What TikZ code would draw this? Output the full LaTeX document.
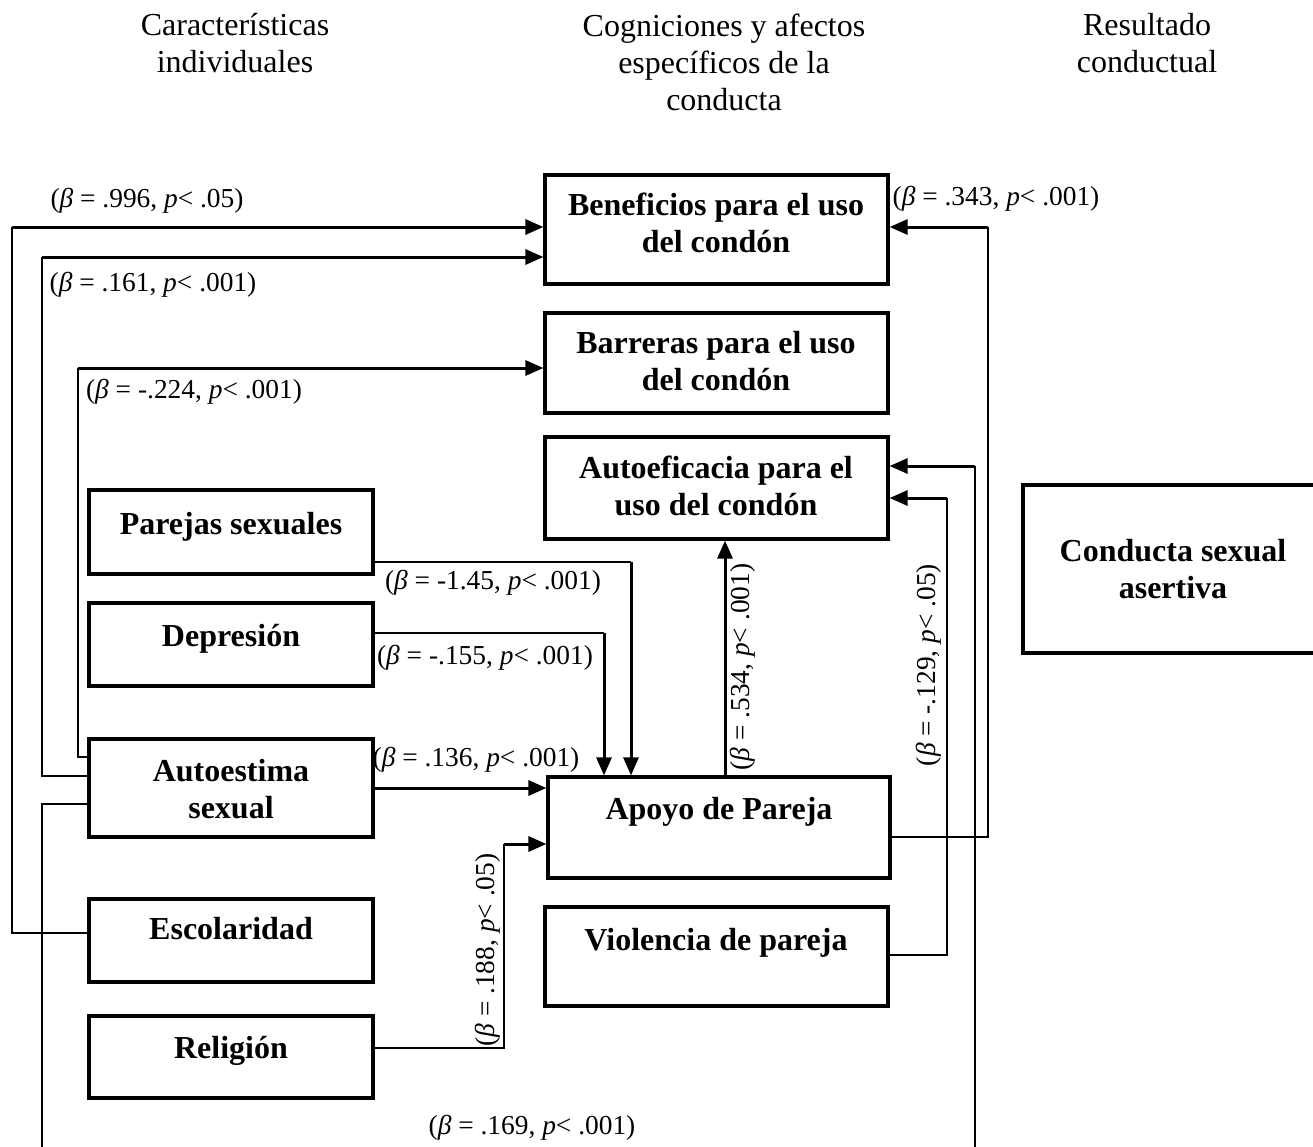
\documentclass[tikz,border=0pt]{standalone}
\usepackage{fontspec}
\setmainfont{Liberation Serif}
\usetikzlibrary{arrows.meta}
\begin{document}
\begin{tikzpicture}[x=1pt,y=-1pt,
  box/.style={draw, line width=3.2pt, rectangle, inner sep=0pt},
  boxtext/.style={font=\fontsize{32}{36.8}\selectfont\bfseries, align=center, anchor=base, inner sep=0pt},
  head/.style={font=\fontsize{32}{36.8}\selectfont, align=center, anchor=base, inner sep=0pt},
  coef/.style={font=\fontsize{27.4}{31.5}\selectfont, inner sep=0pt},
  thinline/.style={line width=1.5pt},
  arrowline/.style={line width=3pt, -{Triangle[length=18pt,width=15pt]}},
]
\useasboundingbox (0,0) rectangle (1313,1146);
\clip (0,0) rectangle (1313,1146);

% column headings (base = last line)
\node[head] (hindiv) at (235,72) {Características\\individuales};
\node[head] (hcog) at (724,110) {Cogniciones y afectos\\específicos de la\\conducta};
\node[head] (hres) at (1147,72) {Resultado\\conductual};

% boxes
\node[box, minimum width=343pt, minimum height=109pt] (bene) at (716.5,229.5) {};
\node[box, minimum width=343pt, minimum height=100pt] (barr) at (716.5,363) {};
\node[box, minimum width=343pt, minimum height=102pt] (autoef) at (716.5,488) {};
\node[box, minimum width=284pt, minimum height=84pt] (parejas) at (231,532) {};
\node[box, minimum width=284pt, minimum height=83pt] (depres) at (231,644.5) {};
\node[box, minimum width=284pt, minimum height=98pt] (autoest) at (231,788) {};
\node[box, minimum width=284pt, minimum height=83pt] (escol) at (231,940.5) {};
\node[box, minimum width=284pt, minimum height=82pt] (relig) at (231,1057) {};
\node[box, minimum width=342pt, minimum height=101pt] (apoyo) at (719,827.5) {};
\node[box, minimum width=343pt, minimum height=99pt] (viol) at (716.5,956.5) {};
\node[box, minimum width=300pt, minimum height=168pt] (cond) at (1173,569) {};

% box texts (base = last line)
\node[boxtext] (bene-t) at (716,252) {Beneficios para el uso\\del condón};
\node[boxtext] (barr-t) at (716,390) {Barreras para el uso\\del condón};
\node[boxtext] (autoef-t) at (716,515) {Autoeficacia para el\\uso del condón};
\node[boxtext] (parejas-t) at (231,534) {Parejas sexuales};
\node[boxtext] (depres-t) at (231,646) {Depresión};
\node[boxtext] (autoest-t) at (231,818) {Autoestima\\sexual};
\node[boxtext] (escol-t) at (231,939) {Escolaridad};
\node[boxtext] (relig-t) at (231,1058) {Religión};
\node[boxtext] (apoyo-t) at (719,819) {Apoyo de Pareja};
\node[boxtext] (viol-t) at (716,950) {Violencia de pareja};
\node[boxtext] (cond-t) at (1173,598) {Conducta sexual\\asertiva};

% bend points
\coordinate (c996a) at (12,933);
\coordinate (c996b) at (12,227);
\coordinate (c161a) at (42,776);
\coordinate (c161b) at (42,257);
\coordinate (c224a) at (78,757);
\coordinate (c224b) at (78,368);
\coordinate (c169a) at (42,804);
\coordinate (c169b) at (42,1170);
\coordinate (c169c) at (975,1170);
\coordinate (c169d) at (975,466);
\coordinate (c145) at (631,562);
\coordinate (c155) at (604,633);
\coordinate (c136) at (0,788);
\coordinate (c188a) at (504,1048);
\coordinate (c188b) at (504,844);
\coordinate (c534) at (725,0);
\coordinate (c343a) at (988,837);
\coordinate (c343b) at (988,227);
\coordinate (c129a) at (947,955);
\coordinate (c129b) at (947,498);

% connectors
\draw[thinline] (escol.west |- c996a) -- (c996a) -- (c996b);
\draw[arrowline] (c996b) -- (bene.west |- c996b);
\draw[thinline] (autoest.west |- c161a) -- (c161a) -- (c161b);
\draw[arrowline] (c161b) -- (bene.west |- c161b);
\draw[thinline] (autoest.west |- c224a) -- (c224a) -- (c224b);
\draw[arrowline] (c224b) -- (barr.west |- c224b);
\draw[thinline] (autoest.west |- c169a) -- (c169a) -- (c169b) -- (c169c) -- (c169d);
\draw[arrowline] (c169d) -- (autoef.east |- c169d);
\draw[thinline] (parejas.east |- c145) -- (c145);
\draw[arrowline] (c145) -- (apoyo.north -| c145);
\draw[thinline] (depres.east |- c155) -- (c155);
\draw[arrowline] (c155) -- (apoyo.north -| c155);
\draw[arrowline] (autoest.east |- c136) -- (apoyo.west |- c136);
\draw[thinline] (relig.east |- c188a) -- (c188a) -- (c188b);
\draw[arrowline] (c188b) -- (apoyo.west |- c188b);
\draw[arrowline] (apoyo.north -| c534) -- (autoef.south -| c534);
\draw[thinline] (apoyo.east |- c343a) -- (c343a) -- (c343b);
\draw[arrowline] (c343b) -- (bene.east |- c343b);
\draw[thinline] (viol.east |- c129a) -- (c129a) -- (c129b);
\draw[arrowline] (c129b) -- (autoef.east |- c129b);

% path coefficients
\node[coef] (l996) at (147,201) {(\textit{β} = .996, \textit{p}< .05)};
\node[coef] (l161) at (153,285) {(\textit{β} = .161, \textit{p}< .001)};
\node[coef] (l224) at (194,392) {(\textit{β} = -.224, \textit{p}< .001)};
\node[coef] (l169) at (532,1128) {(\textit{β} = .169, \textit{p}< .001)};
\node[coef] (l145) at (493,583) {(\textit{β} = -1.45, \textit{p}< .001)};
\node[coef] (l155) at (485,658) {(\textit{β} = -.155, \textit{p}< .001)};
\node[coef] (l136) at (476,760) {(\textit{β} = .136, \textit{p}< .001)};
\node[coef, rotate=90] (l188) at (488,950) {(\textit{β} = .188, \textit{p}< .05)};
\node[coef, rotate=90] (l534) at (743,667) {(\textit{β} = .534, \textit{p}< .001)};
\node[coef] (l343) at (996,199) {(\textit{β} = .343, \textit{p}< .001)};
\node[coef, rotate=90] (l129) at (929,665) {(\textit{β} = -.129, \textit{p}< .05)};
\end{tikzpicture}
\end{document}
